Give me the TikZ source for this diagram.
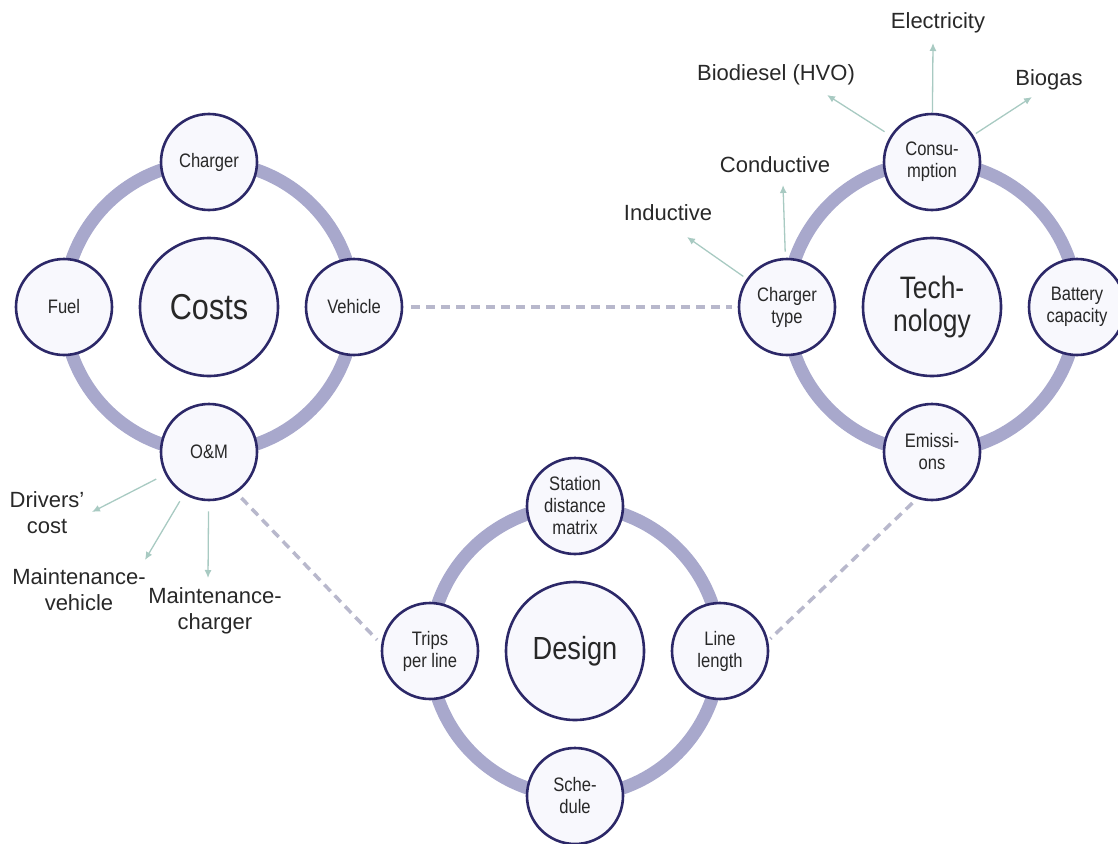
\documentclass[tikz,border=0pt]{standalone}
\usepackage{fontspec}
\setmainfont{Liberation Sans}
\newfontfamily\narrowfont[FakeStretch=0.85]{Liberation Sans}
\usetikzlibrary{arrows.meta}
\definecolor{ringc}{RGB}{168,168,204}
\definecolor{edgec}{RGB}{44,40,104}
\definecolor{fillc}{RGB}{248,248,253}
\definecolor{arrc}{RGB}{168,202,194}
\definecolor{dashc}{RGB}{184,184,204}
\definecolor{txtc}{RGB}{40,40,40}
\tikzset{
  ringband/.style={draw=ringc, line width=13pt},
  hub/.style={circle, draw=edgec, fill=fillc, line width=2.6pt, minimum size=138pt, inner sep=0pt,
    align=center, text=txtc, font=\narrowfont\fontsize{31}{33}\selectfont},
  sat/.style={circle, draw=edgec, fill=fillc, line width=2.6pt, minimum size=96pt, inner sep=0pt,
    align=center, text=txtc, font=\narrowfont\fontsize{19.5}{22}\selectfont},
  lbl/.style={align=center, text=txtc, font=\fontsize{22}{26}\selectfont, inner sep=0pt},
  arr/.style={draw=arrc, line width=1.3pt, -{Latex[length=8pt,width=7pt]}},
  dashlink/.style={draw=dashc, line width=3.5pt, dash pattern=on 9pt off 6pt},
}
\begin{document}
\begin{tikzpicture}[x=1pt,y=-1pt]
\useasboundingbox (0,0) rectangle (1118,843);
% rings
\draw[ringband] (209,307) circle[radius=145];
\draw[ringband] (932,307) circle[radius=145];
\draw[ringband] (575,651) circle[radius=145];
% Costs cluster
\node[hub, font=\narrowfont\fontsize{36}{38}\selectfont] (costs) at (209,307) {Costs};
\node[sat] (charger) at (209,162) {Charger};
\node[sat] (fuel) at (64,307) {Fuel};
\node[sat] (vehicle) at (354,307) {Vehicle};
\node[sat] (om) at (209,452) {O\&M};
% Technology cluster
\node[hub] (tech) at (932,307) {Tech-\\nology};
\node[sat] (cons) at (932,162) {Consu-\\mption};
\node[sat] (ctype) at (787,307) {Charger\\type};
\node[sat] (batt) at (1077,307) {Battery\\capacity};
\node[sat] (emis) at (932,452) {Emissi-\\ons};
% Design cluster
\node[hub, font=\narrowfont\fontsize{32}{34}\selectfont] (design) at (575,651) {Design};
\node[sat] (station) at (575,506) {Station\\distance\\matrix};
\node[sat] (trips) at (430,651) {Trips\\per line};
\node[sat] (llen) at (720,651) {Line\\length};
\node[sat] (sched) at (575,796) {Sche-\\dule};
% outer labels
\node[lbl] (elec) at (938,23) {Electricity};
\node[lbl] (biod) at (776,75) {Biodiesel (HVO)};
\node[lbl] (biog) at (1049,80) {Biogas};
\node[lbl] (cond) at (775,165) {Conductive};
\node[lbl] (ind) at (668,213) {Inductive};
\node[lbl] (drv) at (47,513) {Drivers'\\cost};
\node[lbl] (mveh) at (79,590) {Maintenance-\\vehicle};
\node[lbl] (mch) at (215,611) {Maintenance-\\charger};
% arrow tips
\coordinate (tElec) at (933,43);
\coordinate (tBiod) at (827,95);
\coordinate (tBiog) at (1032,97);
\coordinate (tCond) at (783,185);
\coordinate (tInd) at (687,237);
\coordinate (tDrv) at (92,512);
\coordinate (tMveh) at (145,560);
\coordinate (tMch) at (208,578);
% arrows
\draw[arr] (cons) -- (tElec);
\draw[arr, shorten <=7pt] (cons) -- (tBiod);
\draw[arr, shorten <=3pt] (cons) -- (tBiog);
\draw[arr, shorten <=6pt] (ctype) -- (tCond);
\draw[arr, shorten <=4pt] (ctype) -- (tInd);
\draw[arr, shorten <=10pt] (om) -- (tDrv);
\draw[arr, shorten <=8pt] (om) -- (tMveh);
\draw[arr, shorten <=10pt] (om) -- (tMch);
% dashed links
\draw[dashlink, shorten <=8pt, shorten >=6pt] (vehicle) -- (ctype);
\draw[dashlink, shorten <=7pt, shorten >=6pt] (om.-56) -- (trips.172);
\draw[dashlink, shorten <=6pt, shorten >=3pt] (emis.-108) -- (llen.12);
\end{tikzpicture}
\end{document}
